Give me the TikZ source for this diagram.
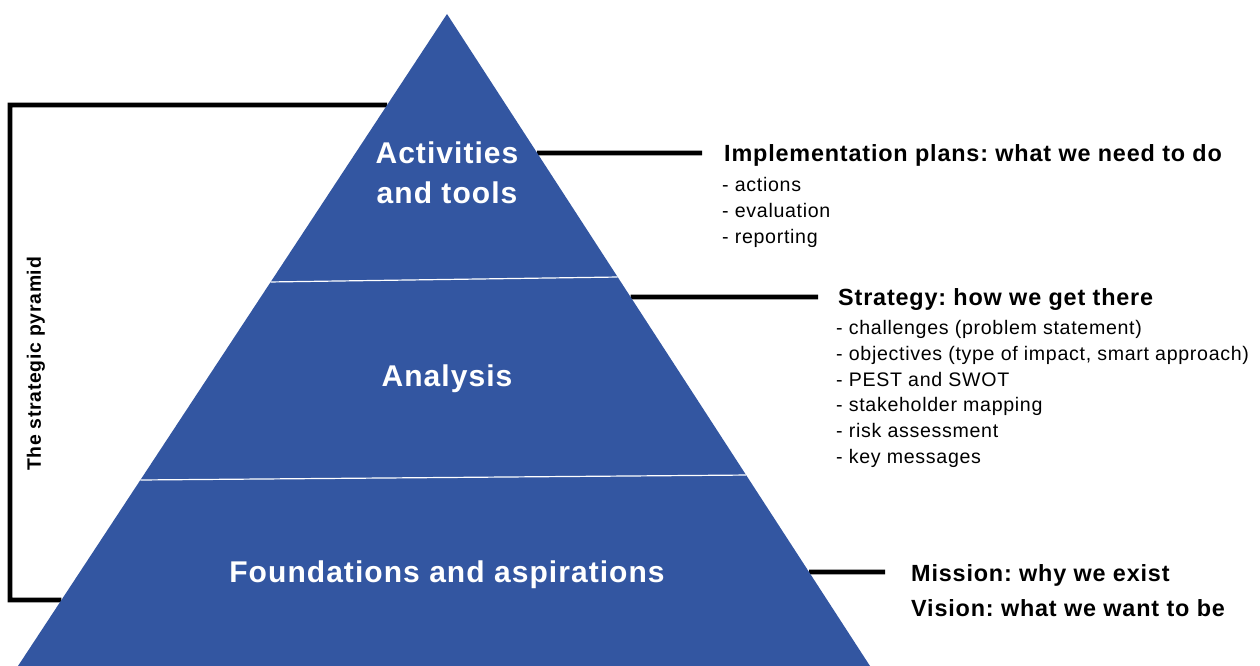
\documentclass[tikz,border=0pt]{standalone}
\usepackage{fontspec}
\setmainfont{Liberation Sans}[LetterSpace=3.5]
\usetikzlibrary{calc}
\definecolor{pyrblue}{RGB}{51,86,161}
\frenchspacing
\begin{document}
\begin{tikzpicture}[x=1pt,y=-1pt,
  lead/.style={line width=4.8pt},
  tierline/.style={white,line width=1.2pt},
  tierlabel/.style={text=white,font=\bfseries\fontsize{30}{40}\selectfont,align=center,inner sep=0},
  head/.style={anchor=base west,inner sep=0,font=\bfseries\fontsize{23.4}{26}\selectfont},
  item/.style={anchor=base west,inner sep=0,font=\fontsize{19.6}{26}\selectfont},
  sidelabel/.style={rotate=90,inner sep=0,font=\bfseries\fontsize{19.4}{20}\selectfont},
]
\useasboundingbox (0,0) rectangle (1260,666);

% pyramid corners
\coordinate (apex) at (447,14);
\coordinate (bl) at (18,666);
\coordinate (br) at (870,666);

% points on the left edge
\coordinate (bt) at ($(apex)!0.1396!(bl)$);
\coordinate (bb) at ($(apex)!0.8988!(bl)$);
\coordinate (d1l) at ($(apex)!0.4110!(bl)$);
\coordinate (d2l) at ($(apex)!0.7147!(bl)$);

% points on the right edge
\coordinate (e1) at ($(apex)!0.2132!(br)$);
\coordinate (e2) at ($(apex)!0.4340!(br)$);
\coordinate (e3) at ($(apex)!0.8558!(br)$);
\coordinate (d1r) at ($(apex)!0.4034!(br)$);
\coordinate (d2r) at ($(apex)!0.7071!(br)$);

% bracket corners and leader ends
\coordinate (c1) at (10,105);
\coordinate (c2) at (10,600);
\coordinate (t1) at (702,153);
\coordinate (t2) at (818,297);
\coordinate (t3) at (885,572);

% leaders and bracket (under the pyramid)
\draw[lead] (bt) -- (c1) -- (c2) -- (bb);
\draw[lead] (e1) -- (t1);
\draw[lead] (e2) -- (t2);
\draw[lead] (e3) -- (t3);

% pyramid with its tiers
\fill[pyrblue] (apex) -- (br) -- (bl) -- cycle;
\draw[tierline] (d1l) -- (d1r);
\draw[tierline] (d2l) -- (d2r);

\node[tierlabel] (tier1) at (447,173) {Activities\\and tools};
\node[tierlabel,anchor=base] (tier2) at (447,386) {Analysis};
\node[tierlabel,anchor=base] (tier3) at (447,582) {Foundations and aspirations};

\node[sidelabel] (side) at (36,364) {The strategic pyramid};

% implementation
\node[head] (h1) at (724,161) {Implementation plans: what we need to do};
\node[item] (i11) at (722,191) {- actions};
\node[item] (i12) at (722,217) {- evaluation};
\node[item] (i13) at (722,243) {- reporting};

% strategy
\node[head] (h2) at (838,305) {Strategy: how we get there};
\node[item] (i21) at (836,334) {- challenges (problem statement)};
\node[item] (i22) at (836,360) {- objectives (type of impact, smart approach)};
\node[item] (i23) at (836,386) {- PEST and SWOT};
\node[item] (i24) at (836,411) {- stakeholder mapping};
\node[item] (i25) at (836,437) {- risk assessment};
\node[item] (i26) at (836,463) {- key messages};

% mission and vision
\node[head] (h3) at (911,581) {Mission: why we exist};
\node[head] (h4) at (911,616) {Vision: what we want to be};
\end{tikzpicture}
\end{document}
